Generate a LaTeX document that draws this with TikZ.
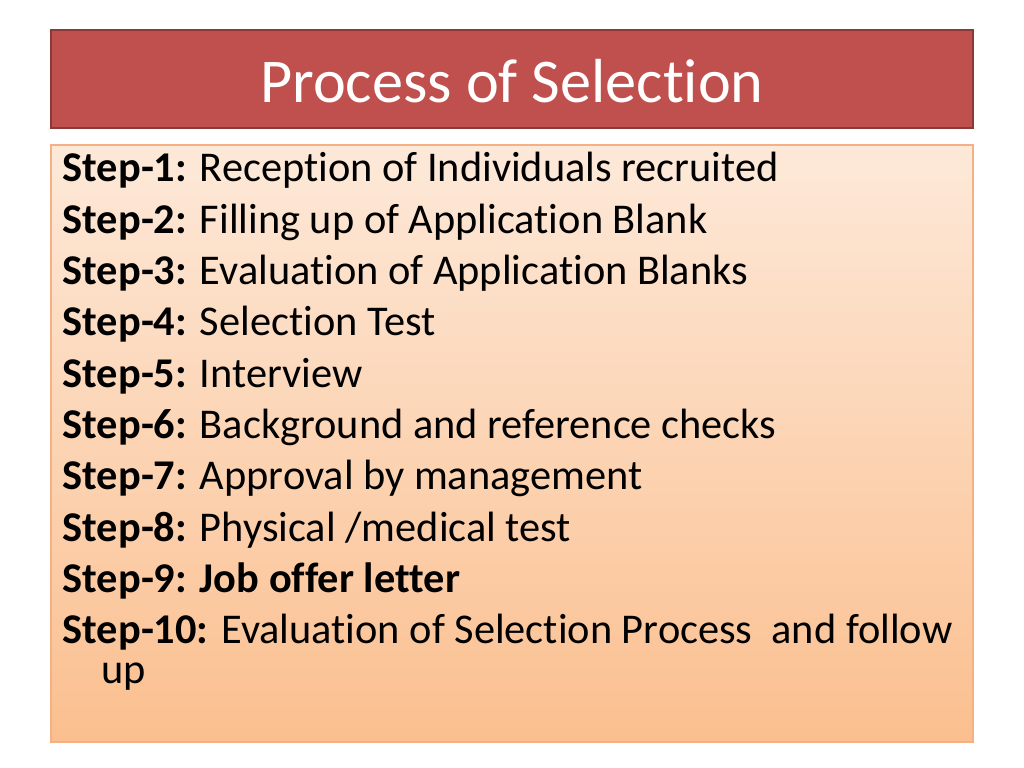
\documentclass[tikz,border=0pt]{standalone}
\usepackage{fontspec}
\setmainfont{Carlito}[RawFeature={-liga;-clig;-calt}]
\usetikzlibrary{positioning}
\definecolor{titlered}{HTML}{C0504D}
\definecolor{titleedge}{HTML}{8C3836}
\definecolor{peachtop}{HTML}{FDE9D9}
\definecolor{peachbot}{HTML}{FBBF8F}
\definecolor{peachedge}{HTML}{F5B183}
\begin{document}
\begin{tikzpicture}[x=0.01cm,y=-0.01cm]
	\tikzstyle{step_line} = [anchor=base west, inner sep=0pt, font=\fontsize{12.05pt}{15pt}\selectfont]
	\useasboundingbox (0,0) rectangle (1024,768);
	\fill[white] (0,0) rectangle (1024,768);

	% Title bar
	\draw[titleedge, fill=titlered, line width=0.8pt] (51,30) rectangle (973,128);
	\node (title) [text=white, font=\fontsize{17.7pt}{20pt}\selectfont] at (512,81) {Process of Selection};

	% Body box
	\shade[top color=peachtop, bottom color=peachbot] (51,145) rectangle (973,742);
	\draw[peachedge, line width=0.6pt] (51,145) rectangle (973,742);

	% Steps
	\foreach \i/\txt in {1/{Reception of Individuals recruited},
		2/{Filling up of Application Blank},
		3/{Evaluation of Application Blanks},
		4/{Selection Test},
		5/{Interview},
		6/{Background and reference checks},
		7/{Approval by management},
		8/{Physical /medical test},
		9/{\textbf{Job offer letter}},
		10/{Evaluation of Selection Process\ \ and follow}}
	\node (step\i) [step_line] at (62,{182+(\i-1)*51.3}) {\textbf{Step-\i:} \txt};
	\node (stepcont) [step_line] at (101,684) {up};
\end{tikzpicture}
\end{document}
